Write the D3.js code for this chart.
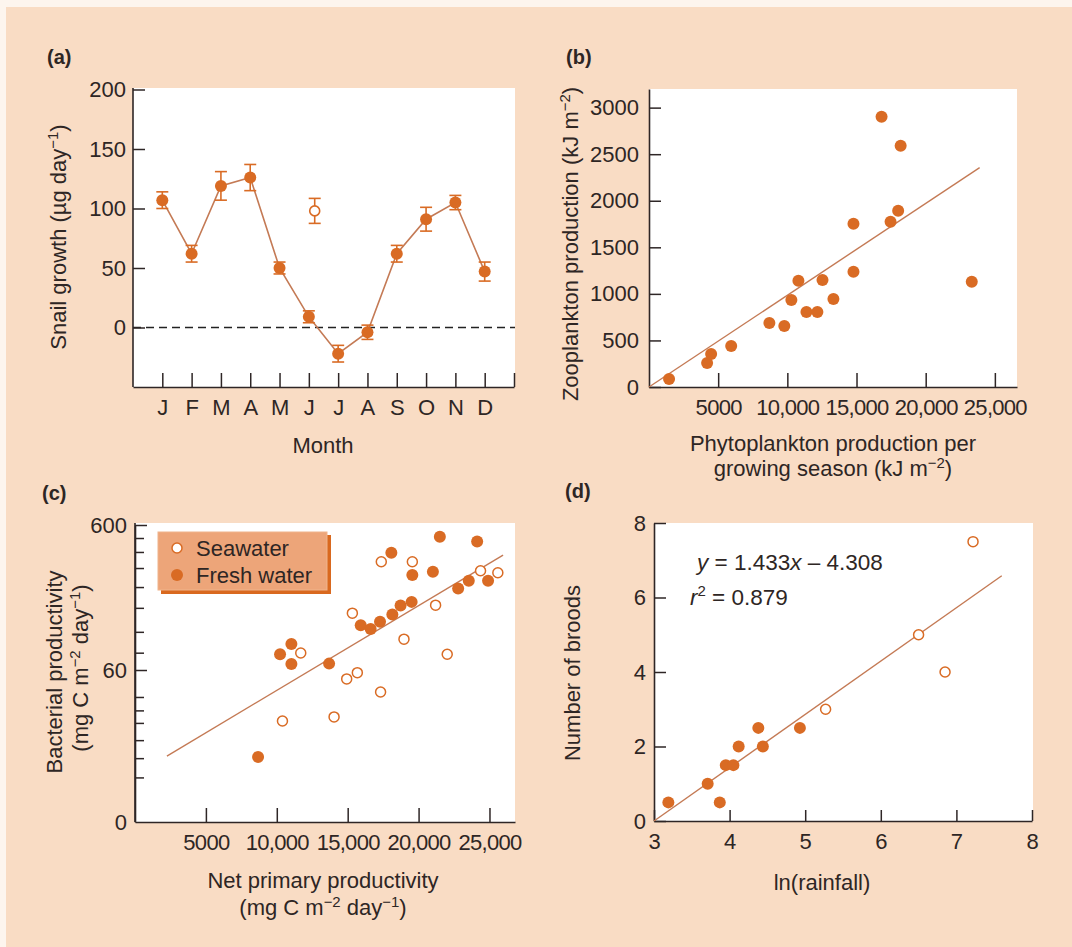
<!DOCTYPE html>
<html>
<head>
<meta charset="utf-8">
<script src="https://cdn.jsdelivr.net/npm/d3@7"></script>
<style>
  html, body { margin: 0; padding: 0; background: #fdf5ee; }
  svg { display: block; }
  text { font-family: "Liberation Sans", Arial, Helvetica, sans-serif; fill: #2e2624; }
</style>
</head>
<body>
<svg id="chart" width="1072" height="947"></svg>
<script>
// ---------------- DATA ----------------
// (a) snail growth by month
const months = ["J","F","M","A","M","J","J","A","S","O","N","D"];
const monthPos = [1,2,3,4,5,6,7,8,9,10,11,12];
const snailGrowth = [107, 62, 119, 126, 50, 9, -22, -4, 62, 91, 105, 47];
const snailError  = [7, 7, 12, 11, 5, 5, 7, 6, 7, 10, 6, 8];
const openMonthPos = [6.2];
const openGrowth = [98];
const openError = [10.5];
const aYTicks = [0, 50, 100, 150, 200];

// (b) zooplankton vs phytoplankton production
const phytoProd = [1450, 4200, 4490, 5940, 8700, 9780, 10290, 10800, 11380, 12170, 12540, 13330, 14780, 14780, 16810, 17460, 18010, 18190, 23330];
const zooProd   = [86, 258, 355, 441, 688, 656, 935, 1140, 806, 806, 1150, 946, 1237, 1753, 2903, 1774, 1892, 2591, 1129];
const bFitX = [0, 23900];
const bFitY = [0, 2355];
const bXTicks = [5000, 10000, 15000, 20000, 25000];
const bYTicks = [0, 500, 1000, 1500, 2000, 2500, 3000];

// (c) bacterial productivity vs net primary productivity
const seaNPP  = [11690, 15330, 14930, 15680, 17320, 10400, 14040, 17370, 19560, 18970, 21200, 22020, 24370, 25590];
const seaBact = [78.6, 148, 52.1, 57.5, 42.3, 26.7, 28.5, 335, 335, 97.9, 168, 77, 290, 281];
const freshNPP  = [10230, 11030, 11030, 13690, 15920, 16620, 17280, 18150, 18730, 19510, 18080, 19560, 21010, 21500, 22790, 23540, 24130, 24900, 8680];
const freshBact = [77.1, 90.6, 65.9, 66.4, 122, 115, 129, 145, 167, 177, 386, 271, 286, 497, 219, 248, 461, 248, 15.1];
const cFitX = [2250, 25960];
const cFitY = [15.3, 372];
const cXTicks = [5000, 10000, 15000, 20000, 25000];
const cYMajor = [60, 600];
const cYMinor = [10.9, 14.8, 19.7, 25.9, 31.6, 39.1, 79, 110, 161, 224, 303, 391, 488];
const cLegend = ["Seawater", "Fresh water"];

// (d) broods vs ln(rainfall)
const dFilledX = [3.19, 3.71, 3.87, 3.95, 4.05, 4.12, 4.38, 4.44, 4.93];
const dFilledY = [0.5, 1.0, 0.5, 1.5, 1.5, 2.0, 2.5, 2.0, 2.5];
const dOpenX = [5.27, 6.50, 6.85, 7.22];
const dOpenY = [3, 5, 4, 7.5];
const dSlope = 1.433, dIntercept = -4.308;
const dFitRange = [3.0, 7.6];
const dXTicks = [3, 4, 5, 6, 7, 8];
const dYTicks = [0, 2, 4, 6, 8];

// ---------------- STYLE ----------------
const ORANGE = "#d96b24";
const LINE = "#c47a55";
const AXIS = "#2e2626";
const FS = 22;      // tick labels
const TS = 22;      // axis titles

const svg = d3.select("#chart");
svg.append("rect").attr("x", 0).attr("y", 0).attr("width", 1072).attr("height", 947).attr("fill", "#fdf5ee");
svg.append("rect").attr("x", 6).attr("y", 7).attr("width", 1066).attr("height", 940).attr("fill", "#f9dcc4");

function styleAxis(g) {
  g.select(".domain").attr("stroke", AXIS).attr("stroke-width", 1.6);
  g.selectAll(".tick line").attr("stroke", AXIS).attr("stroke-width", 1.5);
  g.selectAll(".tick text").attr("font-size", FS).attr("fill", "#2e2624")
    .attr("font-family", "'Liberation Sans', Arial, sans-serif");
}

// text with superscripts: parts are strings or {sup: "..."}
function supText(parent, x, y, parts, opts = {}) {
  const size = opts.size || TS;
  const shift = Math.round(size * 0.38);
  const t = parent.append("text").attr("x", x).attr("y", y)
    .attr("font-size", size).attr("text-anchor", opts.anchor || "middle");
  if (opts.rotate) t.attr("transform", `rotate(-90 ${x} ${y})`);
  let raised = false;
  parts.forEach(p => {
    if (typeof p === "string") {
      const s = t.append("tspan").text(p);
      if (raised) { s.attr("dy", shift); raised = false; }
    } else {
      t.append("tspan").attr("dy", raised ? 0 : -shift).attr("font-size", size * 0.68).text(p.sup);
      raised = true;
    }
  });
  return t;
}

function panelLabel(x, y, s) {
  svg.append("text").attr("x", x).attr("y", y).attr("font-size", 20).attr("font-weight", "bold").text(s);
}

// ---------------- PANEL (a) ----------------
{
  const x = d3.scaleLinear().domain([0, 13]).range([133, 514]);
  const y = d3.scaleLinear().domain([-50, 200]).range([387, 89.5]);
  const g = svg.append("g");
  g.append("rect").attr("x", 133).attr("y", 88).attr("width", 515 - 133).attr("height", 387 - 88).attr("fill", "#fff");
  g.append("line").attr("x1", x(0)).attr("x2", 515).attr("y1", y(0)).attr("y2", y(0))
    .attr("stroke", "#222").attr("stroke-width", 1.6).attr("stroke-dasharray", "8,5");
  const ax = g.append("g").attr("transform", "translate(0,387)")
    .call(d3.axisBottom(x).tickValues(monthPos.concat([13])).tickFormat(d => d <= 12 ? months[d - 1] : "")
      .tickSizeInner(-14).tickSizeOuter(0).tickPadding(12));
  styleAxis(ax);
  const ay = g.append("g").attr("transform", "translate(133,0)")
    .call(d3.axisLeft(y).tickValues(aYTicks).tickSizeInner(-12).tickSizeOuter(0).tickPadding(7));
  styleAxis(ay);
  ay.select(".domain").attr("d", `M0,88V387`);
  const pts = monthPos.map((m, i) => [m, snailGrowth[i]]);
  g.append("path").datum(pts).attr("fill", "none").attr("stroke", LINE).attr("stroke-width", 1.6)
    .attr("d", d3.line().x(d => x(d[0])).y(d => y(d[1])));
  const eb = g.append("g").attr("stroke", ORANGE).attr("stroke-width", 1.6);
  function errBar(m, v, e) {
    const cx = x(m), t = y(v + e), b = y(v - e);
    eb.append("line").attr("x1", cx).attr("x2", cx).attr("y1", t).attr("y2", b);
    eb.append("line").attr("x1", cx - 6).attr("x2", cx + 6).attr("y1", t).attr("y2", t);
    eb.append("line").attr("x1", cx - 6).attr("x2", cx + 6).attr("y1", b).attr("y2", b);
  }
  monthPos.forEach((m, i) => errBar(m, snailGrowth[i], snailError[i]));
  openMonthPos.forEach((m, i) => errBar(m, openGrowth[i], openError[i]));
  g.selectAll(".dotA").data(pts).enter().append("circle")
    .attr("cx", d => x(d[0])).attr("cy", d => y(d[1])).attr("r", 6).attr("fill", ORANGE);
  g.selectAll(".openA").data(openMonthPos).enter().append("circle")
    .attr("cx", d => x(d)).attr("cy", (d, i) => y(openGrowth[i])).attr("r", 5)
    .attr("fill", "#fff").attr("stroke", ORANGE).attr("stroke-width", 1.6);
  svg.append("text").attr("x", 323).attr("y", 453).attr("font-size", TS).attr("text-anchor", "middle").text("Month");
  supText(svg, 66, 237, ["Snail growth (\u00b5g day", {sup: "\u22121"}, ")"], {rotate: true});
  panelLabel(47, 64, "(a)");
}

// ---------------- PANEL (b) ----------------
{
  const x = d3.scaleLinear().domain([0, 26600]).range([649, 1017]);
  const y = d3.scaleLinear().domain([0, 3200]).range([387, 89]);
  const g = svg.append("g");
  g.append("rect").attr("x", 649).attr("y", 89).attr("width", 1017 - 649).attr("height", 387 - 89).attr("fill", "#fff");
  const ax = g.append("g").attr("transform", "translate(0,387)")
    .call(d3.axisBottom(x).tickValues(bXTicks).tickFormat(d => d < 10000 ? String(d) : d3.format(",")(d))
      .tickSizeInner(-14).tickSizeOuter(0).tickPadding(12));
  styleAxis(ax);
  ax.selectAll(".tick text").attr("letter-spacing", -0.7);
  const ay = g.append("g").attr("transform", "translate(649,0)")
    .call(d3.axisLeft(y).tickValues(bYTicks).tickFormat(d3.format("d")).tickSizeInner(-12).tickSizeOuter(0).tickPadding(10));
  styleAxis(ay);
  g.append("path").datum(bFitX.map((v, i) => [v, bFitY[i]])).attr("fill", "none")
    .attr("stroke", LINE).attr("stroke-width", 1.4)
    .attr("d", d3.line().x(d => x(d[0])).y(d => y(d[1])));
  g.selectAll(".dotB").data(phytoProd).enter().append("circle")
    .attr("cx", d => x(d)).attr("cy", (d, i) => y(zooProd[i])).attr("r", 6).attr("fill", ORANGE);
  svg.append("text").attr("x", 833).attr("y", 451).attr("font-size", TS).attr("text-anchor", "middle").text("Phytoplankton production per");
  supText(svg, 833, 476, ["growing season (kJ m", {sup: "\u22122"}, ")"]);
  supText(svg, 578, 244, ["Zooplankton production (kJ m", {sup: "\u22122"}, ")"], {rotate: true});
  panelLabel(566, 64, "(b)");
}

// ---------------- PANEL (c) ----------------
{
  const x = d3.scaleLinear().domain([0, 26800]).range([135, 515]);
  const y = d3.scaleLog().domain([5.37, 600]).range([822, 525]);
  const g = svg.append("g");
  g.append("rect").attr("x", 135).attr("y", 523).attr("width", 515 - 135).attr("height", 822 - 523).attr("fill", "#fff");
  const ax = g.append("g").attr("transform", "translate(0,822)")
    .call(d3.axisBottom(x).tickValues(cXTicks).tickFormat(d => d < 10000 ? String(d) : d3.format(",")(d))
      .tickSizeInner(-14).tickSizeOuter(0).tickPadding(12));
  styleAxis(ax);
  ax.selectAll(".tick text").attr("letter-spacing", -0.7);
  const ayMinor = g.append("g").attr("transform", "translate(135,0)")
    .call(d3.axisLeft(y).tickValues(cYMinor).tickFormat("").tickSizeInner(-9).tickSizeOuter(0));
  styleAxis(ayMinor);
  const ay = g.append("g").attr("transform", "translate(135,0)")
    .call(d3.axisLeft(y).tickValues(cYMajor).tickFormat(d3.format("d")).tickSizeInner(-12).tickSizeOuter(0).tickPadding(8));
  styleAxis(ay);
  ay.select(".domain").attr("d", "M0,523V822");
  g.append("text").attr("x", 127).attr("y", 830).attr("font-size", FS).attr("text-anchor", "end").text("0");
  g.append("path").datum(cFitX.map((v, i) => [v, cFitY[i]])).attr("fill", "none")
    .attr("stroke", LINE).attr("stroke-width", 1.4)
    .attr("d", d3.line().x(d => x(d[0])).y(d => y(d[1])));
  g.selectAll(".seaC").data(seaNPP).enter().append("circle")
    .attr("cx", d => x(d)).attr("cy", (d, i) => y(seaBact[i])).attr("r", 5)
    .attr("fill", "#fff").attr("stroke", ORANGE).attr("stroke-width", 1.5);
  g.selectAll(".freshC").data(freshNPP).enter().append("circle")
    .attr("cx", d => x(d)).attr("cy", (d, i) => y(freshBact[i])).attr("r", 6).attr("fill", ORANGE);
  // legend
  const lg = g.append("g");
  lg.append("rect").attr("x", 161).attr("y", 535).attr("width", 170).attr("height", 59).attr("fill", "#d9691f");
  lg.append("rect").attr("x", 158).attr("y", 532).attr("width", 169).attr("height", 58).attr("fill", "#eda579")
    .attr("stroke", "#f0b48c").attr("stroke-width", 1);
  lg.append("circle").attr("cx", 177).attr("cy", 548).attr("r", 5).attr("fill", "#fff").attr("stroke", ORANGE).attr("stroke-width", 1.5);
  lg.append("circle").attr("cx", 177).attr("cy", 575).attr("r", 6).attr("fill", ORANGE);
  lg.append("text").attr("x", 196).attr("y", 556).attr("font-size", 22).text(cLegend[0]);
  lg.append("text").attr("x", 196).attr("y", 583).attr("font-size", 22).text(cLegend[1]);
  svg.append("text").attr("x", 323).attr("y", 888).attr("font-size", TS).attr("text-anchor", "middle").text("Net primary productivity");
  supText(svg, 323, 915, ["(mg C m", {sup: "\u22122"}, " day", {sup: "\u22121"}, ")"]);
  svg.append("text").attr("x", 62).attr("y", 672).attr("font-size", TS).attr("text-anchor", "middle")
    .attr("transform", "rotate(-90 62 672)").text("Bacterial productivity");
  supText(svg, 88, 668, ["(mg C m", {sup: "\u22122"}, " day", {sup: "\u22121"}, ")"], {rotate: true});
  panelLabel(42, 500, "(c)");
}

// ---------------- PANEL (d) ----------------
{
  const x = d3.scaleLinear().domain([3, 8]).range([654, 1032]);
  const y = d3.scaleLinear().domain([0, 8]).range([821, 523]);
  const g = svg.append("g");
  g.append("rect").attr("x", 654).attr("y", 523).attr("width", 1033 - 654).attr("height", 821 - 523).attr("fill", "#fff");
  const ax = g.append("g").attr("transform", "translate(0,821)")
    .call(d3.axisBottom(x).tickValues(dXTicks).tickFormat(d3.format("d")).tickSizeInner(-11).tickSizeOuter(0).tickPadding(12));
  styleAxis(ax);
  const ay = g.append("g").attr("transform", "translate(654,0)")
    .call(d3.axisLeft(y).tickValues(dYTicks).tickFormat(d3.format("d")).tickSizeInner(-12).tickSizeOuter(0).tickPadding(8));
  styleAxis(ay);
  const fit = dFitRange.map(v => [v, dSlope * v + dIntercept]);
  g.append("path").datum(fit).attr("fill", "none").attr("stroke", LINE).attr("stroke-width", 1.4)
    .attr("d", d3.line().x(d => x(d[0])).y(d => y(Math.max(0, d[1]))));
  g.selectAll(".fillD").data(dFilledX).enter().append("circle")
    .attr("cx", d => x(d)).attr("cy", (d, i) => y(dFilledY[i])).attr("r", 6).attr("fill", ORANGE);
  g.selectAll(".openD").data(dOpenX).enter().append("circle")
    .attr("cx", d => x(d)).attr("cy", (d, i) => y(dOpenY[i])).attr("r", 5)
    .attr("fill", "#fff").attr("stroke", ORANGE).attr("stroke-width", 1.5);
  const eq = g.append("text").attr("x", 697).attr("y", 570).attr("font-size", 22.5);
  eq.append("tspan").attr("font-style", "italic").text("y");
  eq.append("tspan").text(" = 1.433");
  eq.append("tspan").attr("font-style", "italic").text("x");
  eq.append("tspan").text(" \u2013 4.308");
  const r2 = g.append("text").attr("x", 690).attr("y", 605).attr("font-size", 22.5);
  r2.append("tspan").attr("font-style", "italic").text("r");
  r2.append("tspan").attr("dy", -9).attr("font-size", 15).text("2");
  r2.append("tspan").attr("dy", 9).text(" = 0.879");
  svg.append("text").attr("x", 822).attr("y", 890).attr("font-size", TS).attr("text-anchor", "middle").text("ln(rainfall)");
  svg.append("text").attr("x", 580).attr("y", 673).attr("font-size", TS).attr("text-anchor", "middle")
    .attr("transform", "rotate(-90 580 673)").text("Number of broods");
  panelLabel(565, 498, "(d)");
}
</script>
</body>
</html>
